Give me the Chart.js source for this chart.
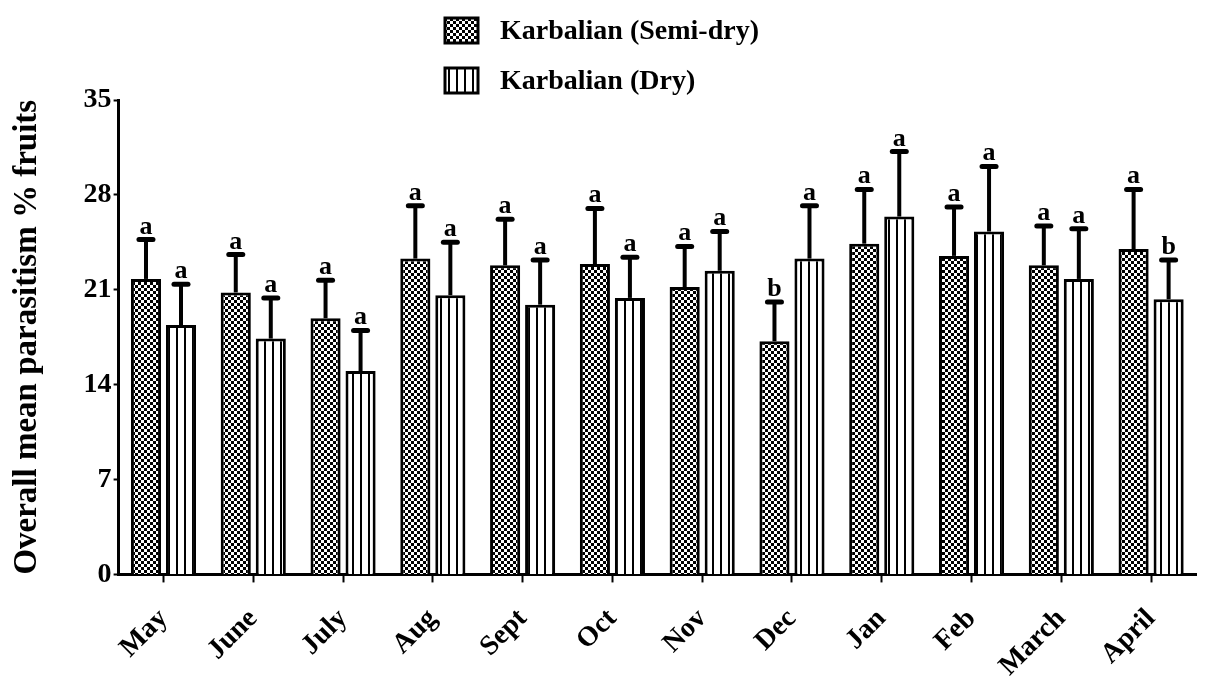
<!DOCTYPE html>
<html>
<head>
<meta charset="utf-8">
<script src="https://cdn.jsdelivr.net/npm/chart.js@4"></script>
<style>
  body { margin: 0; background: #fff; }
  #wrap { position: relative; width: 1206px; height: 691px; }
</style>
</head>
<body>
<div id="wrap"><canvas id="chart"></canvas></div>
<script>
// data
var months = ["May", "June", "July", "Aug", "Sept", "Oct", "Nov", "Dec", "Jan", "Feb", "March", "April"];
var semiDry = [21.8, 20.8, 18.9, 23.3, 22.8, 22.9, 21.2, 17.2, 24.4, 23.5, 22.8, 24.0];
var semiDryErr = [2.9, 2.8, 2.8, 3.9, 3.4, 4.1, 3.0, 2.9, 4.0, 3.6, 2.9, 4.4];
var semiDryLetters = ["a", "a", "a", "a", "a", "a", "a", "b", "a", "a", "a", "a"];
var dry = [18.4, 17.4, 15.0, 20.6, 19.9, 20.4, 22.4, 23.3, 26.4, 25.3, 21.8, 20.3];
var dryErr = [3.0, 3.0, 3.0, 3.9, 3.3, 3.0, 2.9, 3.9, 4.8, 4.8, 3.7, 2.9];
var dryLetters = ["a", "a", "a", "a", "a", "a", "a", "a", "a", "a", "a", "b"];
var yTicks = [0, 7, 14, 21, 28, 35];

var serif = "'Liberation Serif', 'DejaVu Serif', serif";

function checkerPattern() {
  var c = document.createElement("canvas");
  c.width = 6; c.height = 6;
  var g = c.getContext("2d");
  g.fillStyle = "#fff";
  g.fillRect(0, 0, 6, 6);
  g.fillStyle = "#000";
  g.fillRect(0, 0, 3, 3);
  g.fillRect(3, 3, 3, 3);
  return g.createPattern(c, "repeat");
}

function stripePattern() {
  var c = document.createElement("canvas");
  c.width = 8; c.height = 8;
  var g = c.getContext("2d");
  g.fillStyle = "#fff";
  g.fillRect(0, 0, 8, 8);
  g.fillStyle = "#000";
  g.fillRect(0, 0, 2, 8);
  return g.createPattern(c, "repeat");
}

var checker = checkerPattern();
var stripes = stripePattern();

// upper error bars + significance letters
const errorBars = {
  id: "errorBars",
  afterDatasetsDraw(chart) {
    var ctx = chart.ctx;
    var yScale = chart.scales.y;
    var errs = [semiDryErr, dryErr];
    var letters = [semiDryLetters, dryLetters];
    chart.data.datasets.forEach(function (ds, di) {
      var meta = chart.getDatasetMeta(di);
      meta.data.forEach(function (bar, i) {
        var top = yScale.getPixelForValue(ds.data[i] + errs[di][i]);
        ctx.save();
        ctx.strokeStyle = "#000";
        ctx.lineWidth = 4;
        ctx.beginPath();
        ctx.moveTo(bar.x, bar.y);
        ctx.lineTo(bar.x, top);
        ctx.stroke();
        ctx.lineWidth = 5;
        ctx.lineCap = "round";
        ctx.beginPath();
        ctx.moveTo(bar.x - 7, top);
        ctx.lineTo(bar.x + 7, top);
        ctx.stroke();
        ctx.fillStyle = "#000";
        ctx.font = "bold 26px " + serif;
        ctx.textAlign = "center";
        ctx.textBaseline = "alphabetic";
        ctx.fillText(letters[di][i], bar.x, top - 6);
        ctx.restore();
      });
    });
  }
};

// two-row legend at the top
const topLegend = {
  id: "topLegend",
  afterDraw(chart) {
    var ctx = chart.ctx;
    ctx.save();
    chart.data.datasets.forEach(function (ds, i) {
      var y = 18 + i * 50;
      ctx.fillStyle = ds.backgroundColor;
      ctx.fillRect(445, y, 33, 25);
      ctx.strokeStyle = "#000";
      ctx.lineWidth = 3;
      ctx.strokeRect(445, y, 33, 25);
      ctx.fillStyle = "#000";
      ctx.font = "bold 28px " + serif;
      ctx.textBaseline = "middle";
      ctx.textAlign = "left";
      ctx.fillText(ds.label, 500, y + 14);
    });
    ctx.restore();
  }
};

new Chart(document.getElementById("chart"), {
  type: "bar",
  data: {
    labels: months,
    datasets: [
      {
        label: "Karbalian (Semi-dry)",
        data: semiDry,
        backgroundColor: checker,
        borderColor: "#000",
        borderWidth: 3,
        borderSkipped: "bottom",
        categoryPercentage: 0.78,
        barPercentage: 0.86
      },
      {
        label: "Karbalian (Dry)",
        data: dry,
        backgroundColor: stripes,
        borderColor: "#000",
        borderWidth: 3,
        borderSkipped: "bottom",
        categoryPercentage: 0.78,
        barPercentage: 0.86
      }
    ]
  },
  options: {
    responsive: true,
    maintainAspectRatio: false,
    animation: false,
    layout: { padding: { top: 100, right: 10, left: 8, bottom: -12 } },
    plugins: {
      legend: { display: false },
      tooltip: { enabled: false }
    },
    scales: {
      x: {
        grid: {
          offset: false,
          drawOnChartArea: false,
          drawTicks: true,
          tickLength: 8,
          tickWidth: 2,
          tickColor: "#000"
        },
        border: { color: "#000", width: 3 },
        ticks: {
          color: "#000",
          font: { family: serif, size: 28, weight: "bold" },
          minRotation: 45,
          maxRotation: 45,
          padding: 20
        }
      },
      y: {
        min: 0,
        max: 35,
        afterBuildTicks: function (axis) {
          axis.ticks = yTicks.map(function (v) { return { value: v }; });
        },
        grid: {
          drawOnChartArea: false,
          tickLength: 5,
          tickWidth: 2,
          tickColor: "#000"
        },
        border: { color: "#000", width: 3 },
        ticks: {
          color: "#000",
          font: { family: serif, size: 28, weight: "bold" },
          padding: 2
        },
        title: {
          display: true,
          text: "Overall mean parasitism % fruits",
          color: "#000",
          font: { family: serif, size: 33, weight: "bold" },
          padding: { top: 0, bottom: 34 }
        }
      }
    }
  },
  plugins: [errorBars, topLegend]
});
</script>
</body>
</html>
